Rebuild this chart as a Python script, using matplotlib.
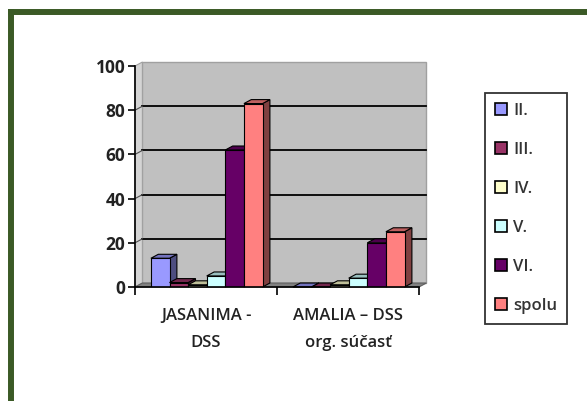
import numpy as np
import matplotlib
matplotlib.use("Agg")
import matplotlib.pyplot as plt
from matplotlib.patches import Polygon, Patch
from matplotlib.lines import Line2D

# data
categories = ["JASANIMA -\nDSS", "AMALIA \u2013 DSS\norg. s\u00fa\u010das\u0165"]
series = ["II.", "III.", "IV.", "V.", "VI.", "spolu"]
values = {
    "II.":   [13, 0],
    "III.":  [2, 0],
    "IV.":   [1, 1],
    "V.":    [5, 4],
    "VI.":   [62, 20],
    "spolu": [83, 25],
}
yticks = [0, 20, 40, 60, 80, 100]

# excel 2003 style colours: front, top, side
colors = {
    "II.":   ("#9999FF", "#7373BF", "#4D4D80"),
    "III.":  ("#993366", "#73264D", "#4D1A33"),
    "IV.":   ("#FFFFCC", "#BFBF99", "#808066"),
    "V.":    ("#CCFFFF", "#99BFBF", "#668080"),
    "VI.":   ("#660066", "#4D004D", "#330033"),
    "spolu": ("#FF8080", "#BF6060", "#804040"),
}

plt.rcParams['font.family'] = ['Open Sans', 'DejaVu Sans']

W, H = 587, 401
fig = plt.figure(figsize=(W / 100, H / 100), dpi=100)
fig.patch.set_facecolor("white")

# dark green frame (top and left edges visible)
green = "#3b5a26"
fig.add_artist(Line2D([11 / W, 11 / W], [0, 1 - 12 / H], color=green, lw=4.3,
                      transform=fig.transFigure, solid_capstyle="projecting"))
fig.add_artist(Line2D([11 / W, 1], [1 - 12 / H, 1 - 12 / H], color=green, lw=4.3,
                      transform=fig.transFigure, solid_capstyle="projecting"))

ax = fig.add_axes([135 / W, (H - 287) / H, 284 / W, 221 / H])
ax.set_xlim(0, 2)
ax.set_ylim(0, 100)
ax.patch.set_visible(False)

DX, DY = 0.052, 1.8  # depth offset of the 3d look

# back wall, side wall and floor
ax.add_patch(Polygon([(DX, DY), (2 + DX, DY), (2 + DX, 100 + DY), (DX, 100 + DY)],
                     closed=True, fc="#C0C0C0", ec="#A0A0A0", lw=1, zorder=0, clip_on=False))
ax.add_patch(Polygon([(0, 0), (DX, DY), (DX, 100 + DY), (0, 100)],
                     closed=True, fc="#D4D4D4", ec="#A0A0A0", lw=0.8, zorder=0, clip_on=False))
ax.add_patch(Polygon([(0, 0), (2, 0), (2 + DX, DY), (DX, DY)],
                     closed=True, fc="#808080", ec="#606060", lw=0.8, zorder=0.5, clip_on=False))

# gridlines on the wall
for v in yticks[1:-1]:
    ax.plot([DX, 2 + DX], [v + DY, v + DY], color="black", lw=1.3, zorder=1, clip_on=False)
    ax.plot([0, DX], [v, v + DY], color="#505050", lw=0.8, zorder=1, clip_on=False)

bw = 0.131
start = 0.112
z = 2
for ci in range(len(categories)):
    for si, name in enumerate(series):
        v = values[name][ci]
        x = ci + start + si * bw
        front, top, side = colors[name]
        ax.add_patch(Polygon([(x + bw, 0), (x + bw + DX, DY), (x + bw + DX, v + DY), (x + bw, v)],
                             closed=True, fc=side, ec="black", lw=0.8, zorder=z, clip_on=False))
        ax.add_patch(Polygon([(x, v), (x + bw, v), (x + bw + DX, v + DY), (x + DX, v + DY)],
                             closed=True, fc=top, ec="black", lw=0.8, zorder=z, clip_on=False))
        ax.bar(x, v, bw, align="edge", color=front, edgecolor="black", lw=0.8, zorder=z + 0.5)
        z += 1

for s in ["top", "right"]:
    ax.spines[s].set_visible(False)
for s in ["left", "bottom"]:
    ax.spines[s].set_color("black")
    ax.spines[s].set_linewidth(1.2)
    ax.spines[s].set_zorder(50)

ax.set_yticks(yticks)
ax.set_yticklabels([str(t) for t in yticks], fontsize=12.5, fontweight="bold", color="#222222")
ax.tick_params(axis="y", direction="out", length=5, width=1.2, pad=2)

ax.set_xticks([0, 1, 2])
ax.set_xticklabels(["", "", ""])
ax.tick_params(axis="x", which="major", direction="out", length=6, width=1.2)
ax.set_xticks([0.5, 1.5], minor=True)
ax.set_xticklabels(categories, minor=True, fontsize=12, fontweight="semibold",
                   color="#222222", linespacing=1.95)
ax.tick_params(axis="x", which="minor", length=0, pad=15)

handles = [Patch(facecolor=colors[n][0], edgecolor="black", lw=1.2, label=n) for n in series]
leg = fig.legend(handles=handles, loc="upper left", bbox_to_anchor=(485 / W, 1 - 93 / H),
                 bbox_transform=fig.transFigure, frameon=True, fancybox=False,
                 fontsize=12, handlelength=0.7, handleheight=0.7, handletextpad=0.4,
                 labelspacing=1.38, borderpad=0.6, borderaxespad=0)
leg.get_frame().set_edgecolor("black")
leg.get_frame().set_linewidth(1.3)
for t in leg.get_texts():
    t.set_fontweight("semibold")
    t.set_color("#333333")

fig.savefig("out.png", dpi=100)
